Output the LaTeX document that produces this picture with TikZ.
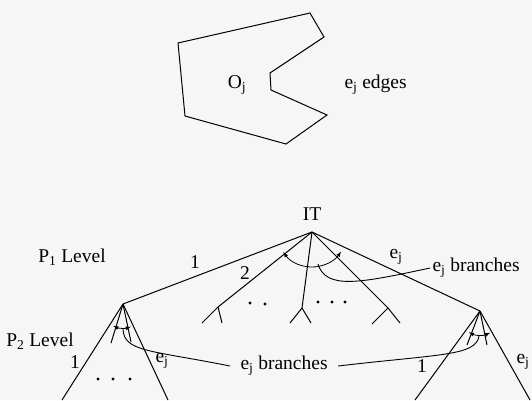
\documentclass[tikz,border=0pt]{standalone}
\usepackage{fontspec}
\setmainfont{Liberation Serif}
\usetikzlibrary{arrows.meta}
\definecolor{scan}{RGB}{246,246,246}

\begin{document}
\begin{tikzpicture}[x=1pt, y=-1pt, line width=1pt,
    every node/.style={font=\fontsize{19.5}{22}\selectfont, inner sep=1pt},
    sweep/.style={latex-latex, line width=0.8pt},
    callout/.style={line width=0.9pt},
    dot/.style={circle, fill=black, inner sep=0pt, minimum size=3.2pt}]
    \useasboundingbox[fill=scan] (0,0) rectangle (532,400);

    % object with its edges
    \draw (178,43) -- (310,13) -- (324,37) -- (270,73) -- (271,90) -- (327,115) -- (286,144) -- (185,116) -- cycle;
    \node (obj) at (237,85) {O\textsubscript{j}};
    \node[anchor=west] (edges) at (343,85) {e\textsubscript{j} edges};

    % interpretation tree, P1 level
    \coordinate (it) at (312,232);
    \node (itname) at (312,214) {IT};
    \coordinate (pl) at (123,304);
    \coordinate (pr) at (480,311);
    \coordinate (fa) at (218,307);
    \coordinate (fb) at (302,308);
    \coordinate (fc) at (388,308);

    \draw (it) -- (pl);
    \draw (it) -- (pr);
    \foreach \f/\lx/\ly/\rx/\ry in {fa/-16/16/4/16, fb/-12/15/9/15, fc/-16/16/12/15} {
        \draw (it) -- (\f);
        \draw (\f) -- ++(\lx,\ly);
        \draw (\f) -- ++(\rx,\ry);
    }
    \draw[sweep] (it) ++(145:35) arc (145:34:35);
    \node (one) at (195,262) {1};
    \node (two) at (245,273) {2};
    \node (ejtop) at (396,257) {e\textsubscript{j}};
    \node (lvlone) at (72,257) {P\textsubscript{1} Level};
    \foreach \x/\y in {250/303, 265/304, 318/302, 332/302, 345/302}
        \node[dot] at (\x,\y) {};

    % callouts to the branch labels
    \node[anchor=west, inner xsep=2pt] (brtop) at (430,268) {e\textsubscript{j} branches};
    \draw[callout] (318,264) .. controls (326,290) and (360,283) .. (brtop.west);
    \node[anchor=west, inner xsep=10pt] (brmid) at (230,366) {e\textsubscript{j} branches};

    % P2 level, left node
    \draw (pl) -- (62,400);
    \draw (pl) -- (168,400);
    \draw (pl) -- (111,343);
    \draw (pl) -- (131,342);
    \draw[sweep] (pl) ++(114:24) arc (114:71:24);
    \draw[callout] (123,329) .. controls (124,352) and (150,350) .. (brmid.west);
    \node (onel) at (75,362) {1};
    \node (ejl) at (162,361) {e\textsubscript{j}};
    \node (lvltwo) at (40,341) {P\textsubscript{2} Level};
    \foreach \x in {98, 113, 130}
        \node[dot] at (\x,379) {};

    % P2 level, right node
    \draw (pr) -- (415,400);
    \draw (pr) -- (530,400);
    \draw (pr) -- (467,345);
    \draw (pr) -- (487,345);
    \draw[sweep] (pr) ++(118:24) arc (118:65:24);
    \draw[callout] (479,336) .. controls (476,356) and (440,354) .. (brmid.east);
    \node (oner) at (422,366) {1};
    \node (ejr) at (523,362) {e\textsubscript{j}};
\end{tikzpicture}
\end{document}
